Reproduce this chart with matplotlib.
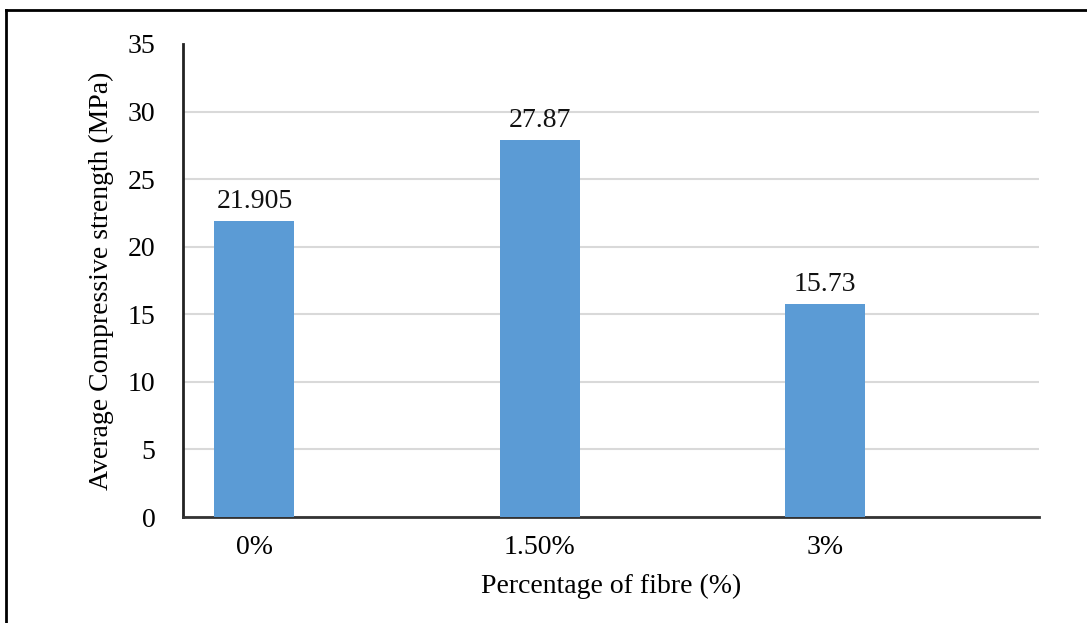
import matplotlib.pyplot as plt
from matplotlib.lines import Line2D

categories = ["0%", "1.50%", "3%"]
strength = [21.905, 27.87, 15.73]
value_labels = ["21.905", "27.87", "15.73"]
y_ticks = [0, 5, 10, 15, 20, 25, 30, 35]

plt.rcParams["font.family"] = ["Liberation Serif", "DejaVu Serif"]
FS = 20

fig = plt.figure(figsize=(10.87, 6.23), dpi=100)
ax = fig.add_axes([0.1684, 0.1701, 0.7874, 0.7593])

x = list(range(len(categories)))
ax.bar(x, strength, width=0.28, color="#5B9BD5", zorder=3)

for xi, v, lab in zip(x, strength, value_labels):
    ax.annotate(lab, (xi, v), xytext=(0, 9.5), textcoords="offset points",
                ha="center", va="baseline", fontsize=FS, color="#111111")

ax.set_xlim(-0.25, 2.75)
ax.set_ylim(0, 35)
ax.set_yticks(y_ticks)
ax.set_xticks(x)
ax.set_xticklabels(categories)
ax.tick_params(axis="y", length=0, pad=20, labelsize=FS)
ax.tick_params(axis="x", length=0, pad=13, labelsize=FS)

ax.grid(axis="y", color="#D9D9D9", linewidth=1.5, zorder=0)
ax.yaxis.get_gridlines()[-1].set_visible(False)

for side in ["top", "right"]:
    ax.spines[side].set_visible(False)
ax.spines["left"].set_linewidth(2)
ax.spines["bottom"].set_linewidth(2)
ax.spines["left"].set_color("#222222")
ax.spines["bottom"].set_color("#333333")

ax.set_xlabel("Percentage of fibre (%)", fontsize=FS, labelpad=10)
ax.set_ylabel("Average Compressive strength (MPa)", fontsize=FS)
ax.yaxis.set_label_coords(-0.081, 0.5)

# outer frame (left and top edges visible in the reference)
fig.add_artist(Line2D([6 / 1087, 6 / 1087], [0, 1 - 10 / 623],
                      transform=fig.transFigure, color="black", linewidth=2))
fig.add_artist(Line2D([6 / 1087, 1], [1 - 10 / 623, 1 - 10 / 623],
                      transform=fig.transFigure, color="black", linewidth=2))

fig.savefig("out.png", dpi=100)
